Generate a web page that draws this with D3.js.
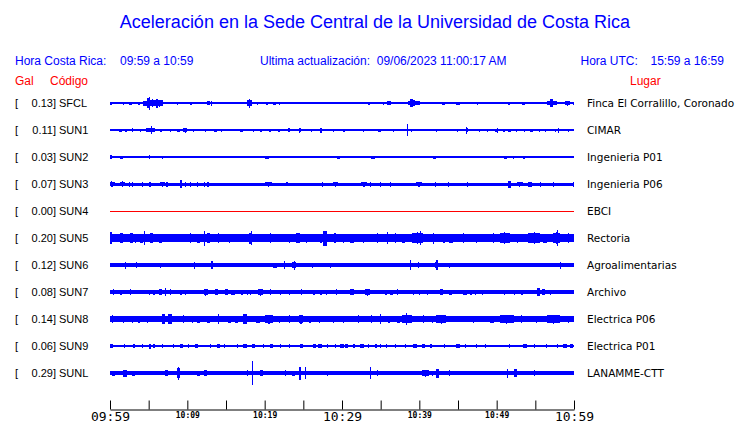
<!DOCTYPE html>
<html>
<head>
<meta charset="utf-8">
<script src="https://cdn.jsdelivr.net/npm/d3@7"></script>
<style>
  html, body { margin: 0; padding: 0; background: #fff; }
  svg { display: block; }
</style>
</head>
<body>
<script>
// ---------------- data ----------------
const codes = ["SFCL","SUN1","SUN2","SUN3","SUN4","SUN5","SUN6","SUN7","SUN8","SUN9","SUNL"];
const galValues = [0.13,0.11,0.03,0.07,0.00,0.20,0.12,0.08,0.14,0.06,0.29];
const places = ["Finca El Corralillo, Coronado","CIMAR","Ingenieria P01","Ingenieria P06","EBCI",
  "Rectoria","Agroalimentarias","Archivo","Electrica P06","Electrica P01","LANAMME-CTT"];
// continuous background amplitude of each trace (relative units)
const baseAmp = [0.6,0.6,0.6,1.5,0.5,3.7,1.6,1.7,2.6,0.6,1.6];
// bursts of each trace: [start minute, end minute, amplitude] (minutes after 09:59)
const burstsSFCL = [[0.0,0.3,1.5],[0.6,0.8,1.3],[1.3,1.5,1.3],[1.4,2.0,1.5],[2.4,2.8,1.5],[3.4,4.1,1.5],[4.3,4.8,2.5],[4.8,5.2,5],[5.0,5.1,6.5],[5.2,5.8,4],[5.8,6.9,3.5],[6.0,6.1,4.5],[7.5,7.7,1.3],[8.6,8.6,1.5],[9.7,9.7,1.3],[10.3,10.6,1.5],[11.6,11.8,1.3],[12.5,12.9,1.8],[13.0,13.0,2.5],[13.6,13.6,1.2],[14.4,14.4,1.2],[14.7,14.7,1.2],[17.7,18.3,3.5],[18.0,18.0,4.5],[18.3,19.8,1.5],[20.0,20.6,1.5],[21.1,21.5,1.5],[21.8,22.0,1.5],[26.3,26.3,1.3],[26.9,26.9,1.3],
  [29.7,29.8,1.3],[31.4,31.5,1.3],[31.9,32.1,1.3],[32.5,32.5,1.3],[33.2,33.8,1.5],[34.5,36.2,1.5],[35.8,36.4,2],[37.7,37.7,1.3],[38.5,40.1,3],[38.8,39.2,3.8],[40.7,41.1,1.3],[42.9,43.3,1.5],[44.4,44.4,1.3],[44.8,45.3,1.5],[45.9,45.9,1.3],[46.9,48.1,1.5],[48.3,48.3,1.3],[49.8,50.2,1.3],[51.3,51.9,1.5],[52.9,53.0,1.3],[53.3,53.7,1.5],[55.2,55.2,1],[56.5,57.8,3],[56.9,57.3,3.8],[58.8,59.5,2.5],[59.9,60,1.5]];
const burstsSUN1 = [[0.2,0.2,1.3],[1.1,1.5,1.5],[1.9,2.2,1.5],[2.6,3.2,1.8],[3.4,4.5,1.5],[4.7,5.8,2],[5.3,5.3,4],[6.3,6.9,1.5],[7.5,8.2,1.5],[8.6,9.1,1.5],[9.5,10.0,1.8],[9.7,9.7,2.5],[10.3,11.2,1.5],[11.4,11.4,1.3],[12.1,12.7,1.5],[13.4,13.8,1.5],[14.0,14.9,1.5],[15.3,15.3,1.3],[16.4,16.4,1.3],[16.8,17.2,1.5],[17.7,17.7,1.3],[18.1,19.0,1.5],[19.4,19.6,1.5],[20.3,21.1,1.5],[21.3,22.4,1.5],[22.6,23.7,1.8],[24.1,25.2,1.8],[24.4,24.4,2.5],[25.4,26.7,1.5],[26.9,27.8,1.5],[27.2,27.2,2.5],[28.4,29.3,1.5],[29.5,29.5,1.3],
  [29.7,30.8,1.5],[31.7,33.8,1.5],[34.7,35.1,1.5],[35.8,37.5,1.5],[38.0,39.9,1.5],[38.4,38.4,6],[40.1,44.4,1.5],[44.6,45.3,1.5],[45.5,47.0,1.8],[46.0,46.0,3.5],[47.2,48.3,1.5],[48.5,49.1,1.5],[49.8,50.2,1.5],[50.0,50.0,2.5],[50.6,51.3,1.5],[51.5,51.9,1.5],[52.2,53.0,1.5],[53.2,54.1,1.5],[54.3,54.7,1.5],[55.2,55.8,1.5],[56.0,56.7,1.5],[56.9,58.4,1.5],[57.9,57.9,2.5],[58.8,59.7,1.5]];
const burstsSUN2 = [[0.0,0.2,2],[1.3,1.7,1.5],[2.2,2.4,1.3],[3.2,3.2,1],[4.3,4.3,1],[5.0,5.2,2],[6.5,7.1,1.5],[8.6,8.6,1],[8.9,9.1,1.3],[9.7,9.7,1.3],[10.3,10.3,1.3],[12.1,12.1,1],[13.4,13.4,1.3],[20.0,20.5,1.5],[20.9,20.9,1],[22.0,22.0,1],[29.3,29.7,1.5],
  [33.0,33.2,1],[33.8,34.3,1.5],[34.9,34.9,1],[35.6,35.6,1],[37.5,37.5,1],[39.7,40.1,1.3],[40.4,40.4,1.3],[41.8,42.2,1.5],[43.3,43.3,1],[43.7,43.7,1],[44.8,44.8,1],[46.9,47.6,1.3],[50.9,51.3,1.5],[51.5,52.8,1.5],[53.4,53.7,1.5],[54.7,54.7,1],[58.8,58.8,1],[59.9,60,1.3]];
const burstsSUN3 = [[0.0,0.6,2.5],[0.1,0.1,3.3],[1.3,1.9,2.8],[2.4,2.4,2.5],[2.8,2.8,2.5],[4.1,4.1,2.5],[5.1,5.1,2.5],[6.5,7.1,2.5],[7.3,7.3,2.5],[9.1,9.1,3.8],[9.7,9.7,2.5],[10.3,10.3,2.5],[11.2,11.2,2.5],[12.1,12.1,2.5],[12.6,12.6,2.5],[20.0,20.9,2.5],[22.8,22.8,2],[27.4,27.4,2.5],[28.9,29.5,2.5],
  [32.5,33.2,2.5],[33.6,33.6,2.5],[34.9,34.9,2.5],[36.2,36.2,2.5],[39.6,40.3,2.5],[42.0,42.0,2.5],[43.7,43.7,2.5],[46.1,46.1,2.5],[51.5,51.9,3.5],[52.6,53.4,2.5],[54.1,54.6,2.5],[55.6,55.6,2.5],[57.3,57.3,2.5],[59.9,59.9,2.5]];
const burstsSUN4 = [];
const burstsSUN5 = [[0.0,0.2,6],[1.3,1.7,5],[2.6,3.0,5],[3.2,3.2,4.5],[3.9,4.3,4.5],[4.4,4.4,7],[5.2,5.6,5],[6.3,6.7,4.5],[7.8,8.6,4.3],[9.1,9.9,4.3],[10.3,10.3,5],[11.2,11.6,4.5],[12.1,12.1,7.5],[12.5,12.9,5],[13.6,14.4,5],[15.1,15.9,4.5],[16.2,16.6,4.3],[17.7,18.5,5.5],[18.2,18.2,7],[19.4,19.8,4.3],[20.5,21.1,5],[22.8,23.7,4.5],[24.1,24.6,5],[25.0,25.9,4.5],[27.2,27.2,4.5],[27.6,28.0,7.5],[28.5,29.7,5],
  [29.7,30.6,4.5],[31.0,31.5,4.5],[32.3,33.2,4.5],[33.8,35.3,5],[35.8,35.8,6],[36.6,37.3,5],[37.7,38.2,4.5],[39.0,40.5,6],[40.1,40.1,7],[40.9,42.7,5.5],[42.9,43.5,4.5],[43.9,44.4,4.5],[45.3,46.1,5],[47.0,47.8,4.5],[49.1,50.0,5],[50.4,51.7,6],[52.6,52.6,4.5],[54.1,55.6,6],[56.0,56.5,4.5],[57.3,58.2,6],[57.8,57.8,8],[58.6,59.9,5]];
const burstsSUN6 = [[1.9,1.9,3.5],[3.4,3.4,3],[5.1,5.1,2.2],[6.5,6.5,2.5],[8.4,8.4,2],[10.9,10.9,3.5],[13.1,13.1,4],[19.8,19.8,2.2],[21.1,21.6,2.5],[22.5,22.5,4],[23.5,24.1,3.2],[23.8,23.8,4.5],[26.1,26.1,2.5],[28.4,28.4,2.5],
  [30.0,30.0,2],[31.0,31.7,2.2],[32.5,32.5,2.2],[33.6,33.6,2.2],[34.3,34.3,2.2],[37.3,37.3,2.2],[38.8,38.8,5],[39.8,39.8,3],[41.4,42.7,3],[42.2,42.2,5],[43.8,43.8,2.5],[46.1,46.1,2.2],[47.6,47.6,2],[48.3,48.3,2],[49.4,49.4,2],[52.0,52.0,2.2],[55.8,55.8,2.2],[58.2,58.2,3.5]];
const burstsSUN7 = [[0.0,0.9,2.8],[1.3,1.5,2.5],[2.4,3.0,2.8],[5.0,5.0,2.5],[5.6,5.6,2.5],[6.3,6.7,2.8],[7.1,7.1,4],[7.5,8.2,2.8],[9.1,9.1,2.5],[9.7,9.7,2.5],[12.1,12.7,3.5],[13.6,14.0,2.8],[14.9,15.3,2.8],[15.7,16.2,2.5],[17.0,17.0,2.5],[17.7,17.7,2.5],[18.1,18.1,2.5],[19.2,19.8,3.5],[20.5,21.1,3],[22.0,22.0,2.5],[23.1,23.1,2.5],[24.4,25.2,2.8],[26.3,26.3,2.5],[27.2,27.2,2.5],[27.9,27.9,2.5],[28.9,29.7,2.8],
  [31.0,31.5,2.8],[33.0,33.6,3.5],[35.6,35.6,2.5],[36.2,36.6,2.5],[36.9,37.5,2.8],[39.2,39.2,2.5],[39.9,39.9,2.5],[41.0,41.0,2.5],[42.7,43.1,3],[43.8,44.2,2.5],[45.7,46.1,2.5],[46.6,46.6,2.5],[47.2,47.2,2.5],[48.1,48.1,2.5],[50.9,50.9,2.5],[52.2,52.2,2.5],[53.2,53.2,2.5],[55.2,55.6,4],[55.8,56.3,2.8],[56.9,56.9,2.5]];
const burstsSUN8 = [[0.0,0.6,4],[1.3,2.2,3.5],[2.8,2.8,3.5],[3.4,4.1,3.5],[4.5,5.2,3.5],[6.7,7.1,5],[7.5,8.0,5],[9.1,9.9,4],[10.6,10.6,3.5],[11.2,11.6,3.5],[12.5,12.9,3.5],[14.0,14.0,5],[15.3,15.7,3.5],[16.2,16.6,3.5],[17.2,17.7,5],[18.9,19.4,3.5],[20.0,21.1,4.5],[21.6,22.2,3.5],[22.8,23.7,4],[24.4,25.0,4.5],[25.4,26.3,3.5],[26.7,27.4,3.5],[28.0,29.7,3.5],
  [29.7,30.6,3.5],[31.5,32.8,4],[33.2,34.5,4],[34.9,34.9,5],[36.0,36.0,3.5],[37.1,37.5,3.5],[37.7,39.0,5],[38.3,38.3,6],[40.0,41.0,4],[41.4,42.0,3.5],[42.2,43.5,4.5],[46.6,47.4,3.5],[49.1,49.6,3.5],[50.4,52.2,4.5],[52.6,53.9,4],[54.7,55.6,3.5],[56.5,58.2,4.5],[58.6,60,3.5]];
const burstsSUN9 = [[0.0,0.4,1.7],[1.1,2.6,1.7],[2.8,3.4,1.7],[3.9,4.5,1.7],[5.1,5.1,2.5],[5.4,6.0,1.7],[6.5,7.1,1.7],[7.8,8.6,1.7],[9.1,9.5,1.7],[9.7,10.6,1.7],[11.0,11.4,1.7],[12.5,13.4,1.7],[13.8,14.2,1.7],[14.7,14.9,1.7],[16.4,16.4,1.7],[17.2,17.7,1.7],[18.3,18.8,1.7],[19.4,20.3,1.7],[20.7,21.1,1.7],[22.0,22.0,2.2],[22.8,23.7,1.7],[24.6,25.0,1.7],[26.3,26.7,1.7],[26.9,27.4,1.7],[27.8,28.4,1.7],[28.9,29.5,1.7],
  [29.7,30.2,1.7],[30.4,30.8,1.7],[31.0,32.1,1.7],[32.3,32.8,1.7],[33.0,33.8,1.8],[34.1,34.7,1.7],[34.9,34.9,1.7],[35.3,36.2,1.7],[36.6,37.3,1.7],[37.7,38.8,1.7],[39.2,39.7,1.7],[40.3,40.7,1.7],[41.2,41.8,1.7],[42.5,44.0,1.7],[44.8,45.3,1.7],[45.9,45.9,1.7],[47.0,47.8,1.7],[48.3,48.9,1.7],[50.4,53.0,1.7],[53.4,53.9,1.7],[54.5,55.2,1.7],[56.0,56.9,1.7],[57.5,58.2,1.7],[58.6,59.1,1.7],[59.5,59.9,1.7]];
const burstsSUNL = [[0.2,0.6,2.5],[1.7,2.2,3.5],[2.8,3.2,2.5],[4.1,4.1,2.2],[5.1,5.1,2.2],[6.5,6.5,2.2],[7.1,7.5,3],[8.6,9.1,5],[8.8,8.8,6.5],[9.7,9.9,2.2],[10.3,10.8,2.2],[11.2,11.6,2.5],[12.1,12.5,3],[13.1,13.1,2.2],[17.7,17.7,3],[18.3,18.3,12],[19.4,19.8,3],[20.3,20.3,2.2],[22.6,22.8,3],[23.5,23.9,2.5],[24.5,24.5,6.5],[25.2,25.2,6],[28.0,28.0,2.5],[28.9,29.3,2],
  [30.2,30.6,2.2],[31.5,31.5,2.2],[32.8,33.0,2.2],[33.6,33.8,6],[34.1,35.0,3],[36.2,36.2,2.2],[40.3,41.2,3.5],[41.6,41.8,2.5],[42.2,42.5,4.5],[43.8,43.8,3],[46.6,46.6,2],[48.7,48.7,2.2],[51.3,51.5,4.5],[52.2,52.6,4],[54.5,55.2,3],[56.7,57.1,2],[58.6,58.6,2.2],[59.9,59.9,2]];
const bursts = [burstsSFCL,burstsSUN1,burstsSUN2,burstsSUN3,burstsSUN4,burstsSUN5,burstsSUN6,burstsSUN7,burstsSUN8,burstsSUN9,burstsSUNL];
const tickTimes = ["09:59","10:04","10:09","10:14","10:19","10:24","10:29","10:34","10:39","10:44","10:49","10:54","10:59"];
const labelTimes = ["09:59","10:09","10:19","10:29","10:39","10:49","10:59"];
const majorLabels = ["09:59","10:29","10:59"];

// ---------------- drawing ----------------
const W = 740, H = 423;
const BLUE = "#0000ff", RED = "#ff0000";
const svg = d3.select("body").append("svg").attr("width", W).attr("height", H);

const parse = d3.timeParse("%H:%M");
const t0 = parse("09:59"), t1 = parse("10:59");
const x = d3.scaleTime().domain([t0, t1]).range([110, 574]);
const minute = m => new Date(t0.getTime() + m * 60000);
const y = d3.scaleBand().domain(codes).range([89.5, 386.5]);
const amp = d3.scaleLinear().domain([0, 12]).range([0, 12]);

const sans = "'Liberation Sans', Arial, sans-serif";
// title & header
svg.append("text").attr("x", 375).attr("y", 28).attr("text-anchor", "middle")
  .attr("font-family", sans).attr("font-size", 18).attr("fill", BLUE)
  .text("Aceleración en la Sede Central de la Universidad de Costa Rica");
const header = [
  ["Hora Costa Rica:", 15, BLUE], ["09:59 a 10:59", 120, BLUE],
  ["Ultima actualización:  09/06/2023 11:00:17 AM", 260, BLUE],
  ["Hora UTC:", 580.5, BLUE], ["15:59 a 16:59", 650.5, BLUE]];
svg.selectAll("text.hdr").data(header).enter().append("text").attr("class","hdr")
  .attr("x", d => d[1]).attr("y", 65).attr("font-family", sans).attr("font-size", 12)
  .attr("fill", d => d[2]).attr("xml:space","preserve").style("white-space","pre").text(d => d[0]);
const header2 = [["Gal", 15], ["Código", 50], ["Lugar", 630]];
svg.selectAll("text.hdr2").data(header2).enter().append("text").attr("class","hdr2")
  .attr("x", d => d[1]).attr("y", 85).attr("font-family", sans).attr("font-size", 12)
  .attr("fill", RED).text(d => d[0]);

// rows
const rows = svg.selectAll("g.row").data(codes).enter().append("g").attr("class","row")
  .attr("transform", d => `translate(0,${y(d) + y.bandwidth()/2})`);

rows.append("text").attr("x", 15).attr("y", 4).attr("font-family", sans).attr("font-size", 11).text("[");
rows.append("text").attr("x", 56).attr("y", 4).attr("text-anchor","end").attr("font-family", sans)
  .attr("font-size", 11).text((d,i) => galValues[i].toFixed(2) + "]");
rows.append("text").attr("x", 59).attr("y", 4).attr("font-family", sans).attr("font-size", 11).text(d => d);
rows.append("text").attr("x", 587).attr("y", 4).attr("font-family", "'DejaVu Sans', sans-serif")
  .attr("font-size", 10.5).text((d,i) => places[i]);

const traceColor = i => galValues[i] === 0 ? RED : BLUE;
rows.each(function(code, i) {
  const g = d3.select(this).append("g").attr("shape-rendering","crispEdges").attr("fill", traceColor(i));
  const b = Math.max(amp(baseAmp[i]), 0.5);
  g.append("rect").attr("x", x(t0)).attr("width", x(t1) - x(t0))
    .attr("y", -b).attr("height", 2*b);
  const ev = g.selectAll("g.ev").data(bursts[i]).enter().append("g").attr("class","ev");
  // burst body: wide bursts are drawn a little lower, with their peak as a spike in the middle
  const wide = d => x(minute(d[1])) - x(minute(d[0])) > 4;
  const bodyAmp = d => wide(d) ? Math.max(amp(d[2]) * 0.8, b) : amp(d[2]);
  ev.append("rect")
    .attr("x", d => x(minute(d[0])))
    .attr("width", d => Math.max(x(minute(d[1])) - x(minute(d[0])), 1.2))
    .attr("y", d => -bodyAmp(d)).attr("height", d => 2*bodyAmp(d));
  ev.filter(wide).append("rect")
    .attr("x", d => x(minute((d[0] + d[1]) / 2)) - 0.6).attr("width", 1.2)
    .attr("y", d => -amp(d[2])).attr("height", d => 2*amp(d[2]));
});

// time axis
const axis = d3.axisBottom(x).tickValues(tickTimes.map(parse))
  .tickSizeInner(-9).tickSizeOuter(0).tickPadding(3)
  .tickFormat(d => { const s = d3.timeFormat("%H:%M")(d); return labelTimes.includes(s) ? s : ""; });
const ax = svg.append("g").attr("transform", "translate(0,409.5)").call(axis);
ax.select(".domain").attr("stroke", "#000").attr("stroke-width", 1);
ax.selectAll(".tick line").attr("stroke", "#000").attr("stroke-width", 1);
ax.selectAll(".tick text").attr("fill", "#000")
  .attr("font-family", "'DejaVu Sans Mono', monospace")
  .each(function(d) {
    const s = d3.timeFormat("%H:%M")(d);
    const big = majorLabels.includes(s);
    d3.select(this).attr("font-size", big ? 13 : 8).attr("font-weight", big ? "normal" : "bold")
      .attr("dy", null).attr("y", big ? 11.5 : 8);
  });
</script>
</body>
</html>
